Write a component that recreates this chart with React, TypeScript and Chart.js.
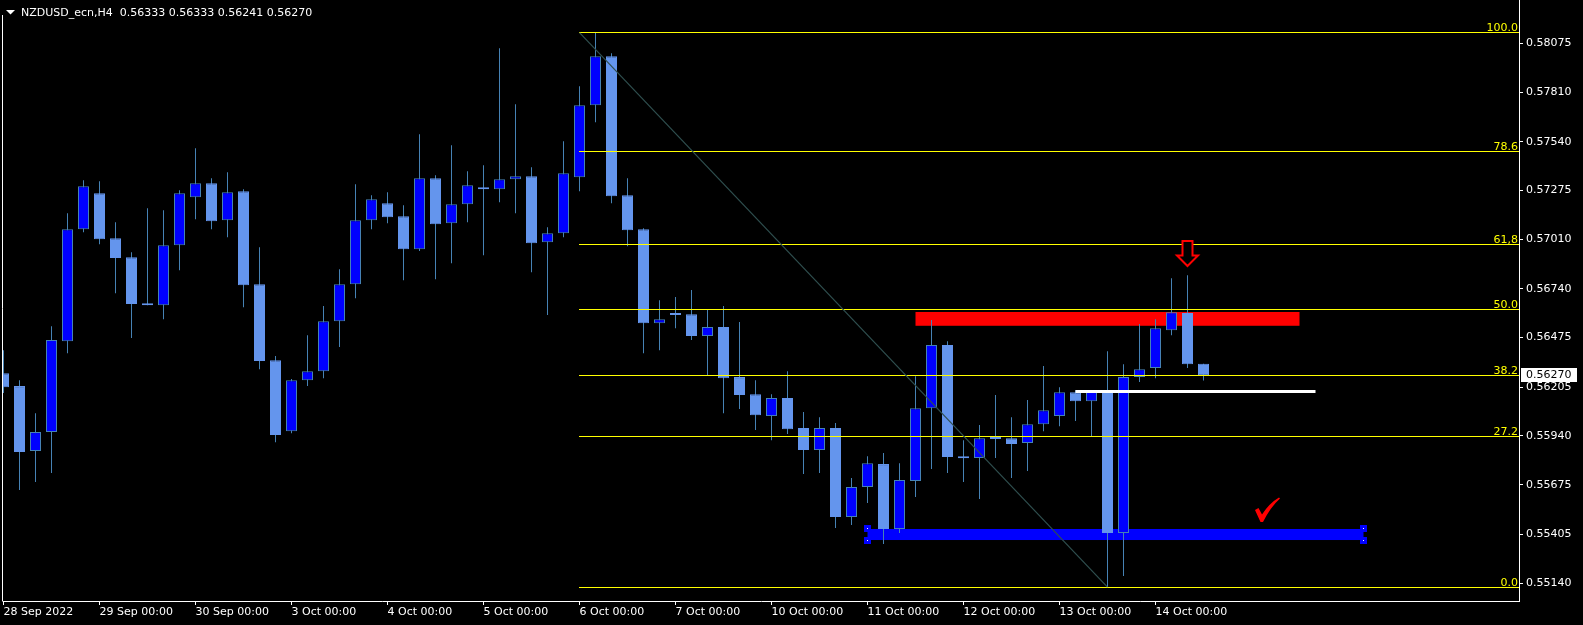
import React, { useEffect, useRef } from "react";
import { Chart, registerables } from "chart.js";
Chart.register(...registerables);

// ---------------- data ----------------
const SYMBOL = "NZDUSD_ecn,H4";

const opens = [
  0.56281, 0.56211, 0.55858, 0.55961, 0.56455, 0.57064, 0.57260, 0.57015, 0.56912, 0.56657,
  0.56651, 0.56977, 0.57238, 0.57314, 0.57113, 0.57271, 0.56765, 0.56352, 0.55966, 0.56243,
  0.56292, 0.56564, 0.56765, 0.57113, 0.57205, 0.57135, 0.56955, 0.57341, 0.57097, 0.57200,
  0.57282, 0.57282, 0.57336, 0.57352, 0.56993, 0.57042, 0.57347, 0.57738, 0.58004, 0.57249,
  0.57064, 0.56553, 0.56608, 0.56602, 0.56483, 0.56532, 0.56260, 0.56167, 0.56048, 0.56146,
  0.55983, 0.55863, 0.55983, 0.55499, 0.55662, 0.55787, 0.55434, 0.55695, 0.56091, 0.56434,
  0.55820, 0.55820, 0.55928, 0.55928, 0.55901, 0.56004, 0.56048, 0.56178, 0.56129, 0.56189,
  0.55412, 0.56260, 0.56309, 0.56515, 0.56608, 0.56333,
];
const highs = [
  0.56406, 0.56243, 0.56064, 0.56537, 0.57151, 0.57330, 0.57325, 0.57102, 0.56939, 0.57178,
  0.57167, 0.57276, 0.57504, 0.57341, 0.57374, 0.57282, 0.56966, 0.56374, 0.56249, 0.56488,
  0.56646, 0.56847, 0.57309, 0.57249, 0.57265, 0.57195, 0.57580, 0.57358, 0.57521, 0.57379,
  0.57412, 0.58048, 0.57743, 0.57401, 0.57075, 0.57542, 0.57841, 0.58133, 0.58021, 0.57341,
  0.57070, 0.56678, 0.56695, 0.56733, 0.56629, 0.56646, 0.56559, 0.56243, 0.56167, 0.56292,
  0.56070, 0.56042, 0.56010, 0.55711, 0.55830, 0.55847, 0.55792, 0.56265, 0.56570, 0.56455,
  0.55917, 0.55999, 0.56162, 0.56042, 0.56135, 0.56320, 0.56205, 0.56189, 0.56184, 0.56401,
  0.56330, 0.56548, 0.56575, 0.56798, 0.56814, 0.56333,
];
const lows = [
  0.56173, 0.55646, 0.55689, 0.55738, 0.56390, 0.57048, 0.56983, 0.56716, 0.56472, 0.56651,
  0.56575, 0.56841, 0.57118, 0.57064, 0.57021, 0.56640, 0.56303, 0.55906, 0.55955, 0.56211,
  0.56254, 0.56423, 0.56689, 0.57064, 0.57097, 0.56787, 0.56945, 0.56792, 0.56879, 0.57102,
  0.56923, 0.57211, 0.57151, 0.56830, 0.56597, 0.57021, 0.57271, 0.57646, 0.57205, 0.56972,
  0.56390, 0.56406, 0.56526, 0.56461, 0.56271, 0.56064, 0.56086, 0.55972, 0.55917, 0.55950,
  0.55733, 0.55738, 0.55439, 0.55455, 0.55575, 0.55352, 0.55412, 0.55608, 0.55760, 0.55738,
  0.55689, 0.55597, 0.55820, 0.55711, 0.55749, 0.55966, 0.55993, 0.56021, 0.55939, 0.55118,
  0.55178, 0.56233, 0.56254, 0.56488, 0.56309, 0.56241,
];
const closes = [
  0.56205, 0.55852, 0.55961, 0.56461, 0.57064, 0.57298, 0.57010, 0.56907, 0.56657, 0.56651,
  0.56977, 0.57260, 0.57314, 0.57108, 0.57265, 0.56760, 0.56347, 0.55945, 0.56243, 0.56292,
  0.56564, 0.56765, 0.57113, 0.57227, 0.57129, 0.56955, 0.57341, 0.57091, 0.57200, 0.57303,
  0.57281, 0.57336, 0.57352, 0.56988, 0.57042, 0.57368, 0.57738, 0.58004, 0.57243, 0.57059,
  0.56553, 0.56575, 0.56597, 0.56483, 0.56532, 0.56254, 0.56162, 0.56053, 0.56146, 0.55977,
  0.55863, 0.55983, 0.55499, 0.55662, 0.55792, 0.55434, 0.55700, 0.56091, 0.56434, 0.55825,
  0.55819, 0.55928, 0.55923, 0.55896, 0.56004, 0.56080, 0.56178, 0.56129, 0.56184, 0.55412,
  0.56260, 0.56303, 0.56526, 0.56613, 0.56330, 0.56270,
];

const xTickIndex = [0, 6, 12, 18, 24, 30, 36, 42, 48, 54, 60, 66, 72];
const xTickLabels = [
  "28 Sep 2022", "29 Sep 00:00", "30 Sep 00:00", "3 Oct 00:00", "4 Oct 00:00",
  "5 Oct 00:00", "6 Oct 00:00", "7 Oct 00:00", "10 Oct 00:00", "11 Oct 00:00",
  "12 Oct 00:00", "13 Oct 00:00", "14 Oct 00:00",
];
const yTickValues = [
  0.58075, 0.5781, 0.5754, 0.57275, 0.5701, 0.5674, 0.56475, 0.56205, 0.5594, 0.55675, 0.55405, 0.5514,
];

const fibStart = [36, 0.58133];
const fibEnd = [69, 0.55118];
const fibLevels = [0, 27.2, 38.2, 50, 61.8, 78.6, 100];
const fibLabels = ["0.0", "27.2", "38.2", "50.0", "61,8", "78.6", "100.0"];

const redZoneX = [57, 81];
const redZonePrice = [0.56539, 0.56614];
const blueZoneX = [54, 85];
const blueZonePrice = [0.55374, 0.55434];
const whiteLineX = [67, 82];
const whiteLinePrice = 0.56187;
const arrowAt = [74, 0.56864];
const checkAt = [79, 0.55603];

// view range
const X_MIN = -0.03125;
const X_MAX = 94.71875;
const Y_MAX = 0.583105;
const Y_MIN = 0.550424;

const FONT = "DejaVu Sans";

export default function App() {
  const ref = useRef<HTMLCanvasElement>(null);

  useEffect(() => {
    document.body.style.margin = "0";
    document.body.style.background = "#000";
    const canvas = ref.current!;
    const idx = opens.map((_, i) => i);
    const bull = (i: number) => closes[i] > opens[i];

    const px = (c: any, v: number) => c.scales.x.getPixelForValue(v);
    const py = (c: any, p: number) => c.scales.y.getPixelForValue(p);
    const crisp = (v: number) => Math.floor(v) + 0.5;

    const background = {
      id: "bgObjects",
      beforeDatasetsDraw(c: any) {
        const ctx = c.ctx;
        const a = c.chartArea;
        ctx.save();
        ctx.beginPath();
        ctx.rect(a.left, a.top, a.right - a.left, a.bottom - a.top);
        ctx.clip();
        // red zone
        ctx.fillStyle = "#FF0000";
        const rx0 = px(c, redZoneX[0]), rx1 = px(c, redZoneX[1]);
        const ry0 = py(c, redZonePrice[1]), ry1 = py(c, redZonePrice[0]);
        ctx.fillRect(rx0, ry0, rx1 - rx0, ry1 - ry0);
        // blue zone
        ctx.fillStyle = "#0000FF";
        const bx0 = px(c, blueZoneX[0]), bx1 = px(c, blueZoneX[1]);
        const by0 = py(c, blueZonePrice[1]), by1 = py(c, blueZonePrice[0]);
        ctx.fillRect(bx0, by0, bx1 - bx0, by1 - by0);
        ctx.restore();
      },
    };

    const foreground = {
      id: "fgObjects",
      afterDatasetsDraw(c: any) {
        const ctx = c.ctx;
        const a = c.chartArea;
        ctx.save();
        ctx.beginPath();
        ctx.rect(a.left, a.top, a.right - a.left, a.bottom - a.top);
        ctx.clip();

        // fibonacci levels
        const x0 = px(c, fibStart[0]);
        ctx.strokeStyle = "#FFFF00";
        ctx.lineWidth = 1;
        ctx.fillStyle = "#FFFF00";
        ctx.font = `11px "${FONT}"`;
        ctx.textAlign = "right";
        ctx.textBaseline = "alphabetic";
        fibLevels.forEach((lv, k) => {
          const p = fibEnd[1] + ((fibStart[1] - fibEnd[1]) * lv) / 100;
          const y = crisp(py(c, p));
          ctx.beginPath();
          ctx.moveTo(Math.floor(x0), y);
          ctx.lineTo(a.right, y);
          ctx.stroke();
          ctx.fillText(fibLabels[k], a.right - 1, y - 2);
        });
        // diagonal of the fibo
        ctx.strokeStyle = "#2F4F4F";
        ctx.lineWidth = 1.2;
        ctx.beginPath();
        ctx.moveTo(px(c, fibStart[0]), py(c, fibStart[1]));
        ctx.lineTo(px(c, fibEnd[0]), py(c, fibEnd[1]));
        ctx.stroke();

        // white line
        ctx.strokeStyle = "#FFFFFF";
        ctx.lineWidth = 3;
        const wy = Math.round(py(c, whiteLinePrice)) + 0.5;
        ctx.beginPath();
        ctx.moveTo(px(c, whiteLineX[0]), wy);
        ctx.lineTo(px(c, whiteLineX[1]), wy);
        ctx.stroke();

        // blue zone handles
        const hx = [px(c, blueZoneX[0]), px(c, blueZoneX[1])];
        const hy = [py(c, blueZonePrice[1]), py(c, blueZonePrice[0])];
        hx.forEach((x) =>
          hy.forEach((y) => {
            const cx = Math.floor(x), cy = Math.floor(y);
            ctx.fillStyle = "#0000FF";
            ctx.fillRect(cx - 3, cy - 3, 7, 7);
            ctx.fillStyle = "#FFFFFF";
            ctx.fillRect(cx, cy, 1, 1);
          })
        );

        // red down arrow
        const tx = Math.floor(px(c, arrowAt[0])) + 0.5;
        const ty = py(c, arrowAt[1]);
        ctx.beginPath();
        ctx.moveTo(tx, ty);
        ctx.lineTo(tx + 10.5, ty - 10.5);
        ctx.lineTo(tx + 5, ty - 10.5);
        ctx.lineTo(tx + 5, ty - 25);
        ctx.lineTo(tx - 5, ty - 25);
        ctx.lineTo(tx - 5, ty - 10.5);
        ctx.lineTo(tx - 10.5, ty - 10.5);
        ctx.closePath();
        ctx.fillStyle = "#000";
        ctx.fill();
        ctx.strokeStyle = "#FF0000";
        ctx.lineWidth = 2;
        ctx.lineJoin = "miter";
        ctx.stroke();

        // red check mark
        const cx = px(c, checkAt[0]);
        const cy = py(c, checkAt[1]);
        ctx.fillStyle = "#FF0000";
        ctx.beginPath();
        ctx.moveTo(cx - 12.5, cy + 12);
        ctx.lineTo(cx - 9, cy + 10);
        ctx.lineTo(cx - 5.5, cy + 16.5);
        ctx.quadraticCurveTo(cx + 2, cy + 5, cx + 11.5, cy - 0.5);
        ctx.lineTo(cx + 12.5, cy + 0.5);
        ctx.quadraticCurveTo(cx + 3, cy + 9, cx - 4.5, cy + 24);
        ctx.lineTo(cx - 7, cy + 24);
        ctx.closePath();
        ctx.fill();
        ctx.restore();
      },
      afterDraw(c: any) {
        const ctx = c.ctx;
        const a = c.chartArea;
        ctx.save();
        // left frame line
        ctx.strokeStyle = "#FFFFFF";
        ctx.lineWidth = 1;
        ctx.beginPath();
        ctx.moveTo(2.5, 15);
        ctx.lineTo(2.5, a.bottom + 0.5);
        ctx.stroke();

        // current price label
        const last = closes.length - 1;
        const yc = py(c, closes[last]);
        ctx.fillStyle = "#FFFFFF";
        ctx.fillRect(a.right + 2, Math.round(yc) - 7, 56, 14);
        ctx.fillStyle = "#000000";
        ctx.font = `11px "${FONT}"`;
        ctx.textAlign = "left";
        ctx.textBaseline = "middle";
        ctx.fillText(closes[last].toFixed(5), a.right + 7, Math.round(yc) + 0.5);

        // title
        ctx.fillStyle = "#FFFFFF";
        ctx.beginPath();
        ctx.moveTo(6, 10);
        ctx.lineTo(15, 10);
        ctx.lineTo(10.5, 14.5);
        ctx.closePath();
        ctx.fill();
        ctx.textBaseline = "alphabetic";
        const title = `${SYMBOL}  ${opens[last].toFixed(5)} ${highs[last].toFixed(5)} ${lows[last].toFixed(5)} ${closes[last].toFixed(5)}`;
        ctx.fillText(title, 21, 16);
        ctx.restore();
      },
    };

    const chart = new Chart(canvas, {
      type: "bar",
      data: {
        datasets: [
          {
            label: "body",
            data: idx.map((i) => ({ x: i, y: [opens[i], closes[i]] })) as any,
            backgroundColor: idx.map((i) => (bull(i) ? "#0000FF" : "#6495ED")),
            borderColor: idx.map((i) => (bull(i) ? "#4682B4" : "#6495ED")),
            borderWidth: 1,
            borderSkipped: false,
            barThickness: 11,
            minBarLength: 2,
            grouped: false,
            inflateAmount: 0,
            order: 0,
          } as any,
          {
            label: "wick",
            data: idx.map((i) => ({ x: i, y: [lows[i], highs[i]] })) as any,
            backgroundColor: "#4682B4",
            borderWidth: 0,
            barThickness: 1,
            grouped: false,
            inflateAmount: 0,
            order: 1,
          } as any,
        ],
      },
      options: {
        responsive: false,
        animation: false,
        devicePixelRatio: 1,
        layout: { padding: { left: 3, top: 0, right: 0, bottom: 0 } },
        plugins: { legend: { display: false }, tooltip: { enabled: false } },
        scales: {
          x: {
            type: "linear",
            min: X_MIN,
            max: X_MAX,
            offset: false,
            position: "bottom",
            afterBuildTicks: (s: any) => {
              s.ticks = xTickIndex.map((v) => ({ value: v }));
            },
            afterFit: (s: any) => {
              s.height = 24;
              s.paddingLeft = 0;
              s.paddingRight = 0;
            },
            ticks: {
              color: "#FFFFFF",
              font: { family: FONT, size: 11 },
              padding: 1,
              align: "start",
              maxRotation: 0,
              minRotation: 0,
              autoSkip: false,
              callback: (v: any) => {
                const k = xTickIndex.indexOf(Number(v));
                return k >= 0 ? xTickLabels[k] : "";
              },
            },
            grid: { display: true, drawOnChartArea: false, drawTicks: true, tickLength: 4, color: "#FFFFFF", offset: false },
            border: { display: true, color: "#FFFFFF" },
          } as any,
          y: {
            type: "linear",
            position: "right",
            min: Y_MIN,
            max: Y_MAX,
            afterBuildTicks: (s: any) => {
              s.ticks = yTickValues.map((v) => ({ value: v }));
            },
            afterFit: (s: any) => {
              s.width = 64;
              s.paddingTop = 0;
              s.paddingBottom = 0;
            },
            ticks: {
              color: "#FFFFFF",
              font: { family: FONT, size: 11 },
              padding: 3,
              callback: (v: any) => Number(v).toFixed(5),
            },
            grid: { display: true, drawOnChartArea: false, drawTicks: true, tickLength: 4, color: "#FFFFFF" },
            border: { display: true, color: "#FFFFFF" },
          } as any,
        },
      },
      plugins: [background, foreground],
    });
    return () => chart.destroy();
  }, []);

  return (
    <div style={{ position: "absolute", left: 0, top: 0, width: 1583, height: 625, background: "#000" }}>
      <canvas ref={ref} width={1583} height={625} style={{ display: "block" }} />
    </div>
  );
}
